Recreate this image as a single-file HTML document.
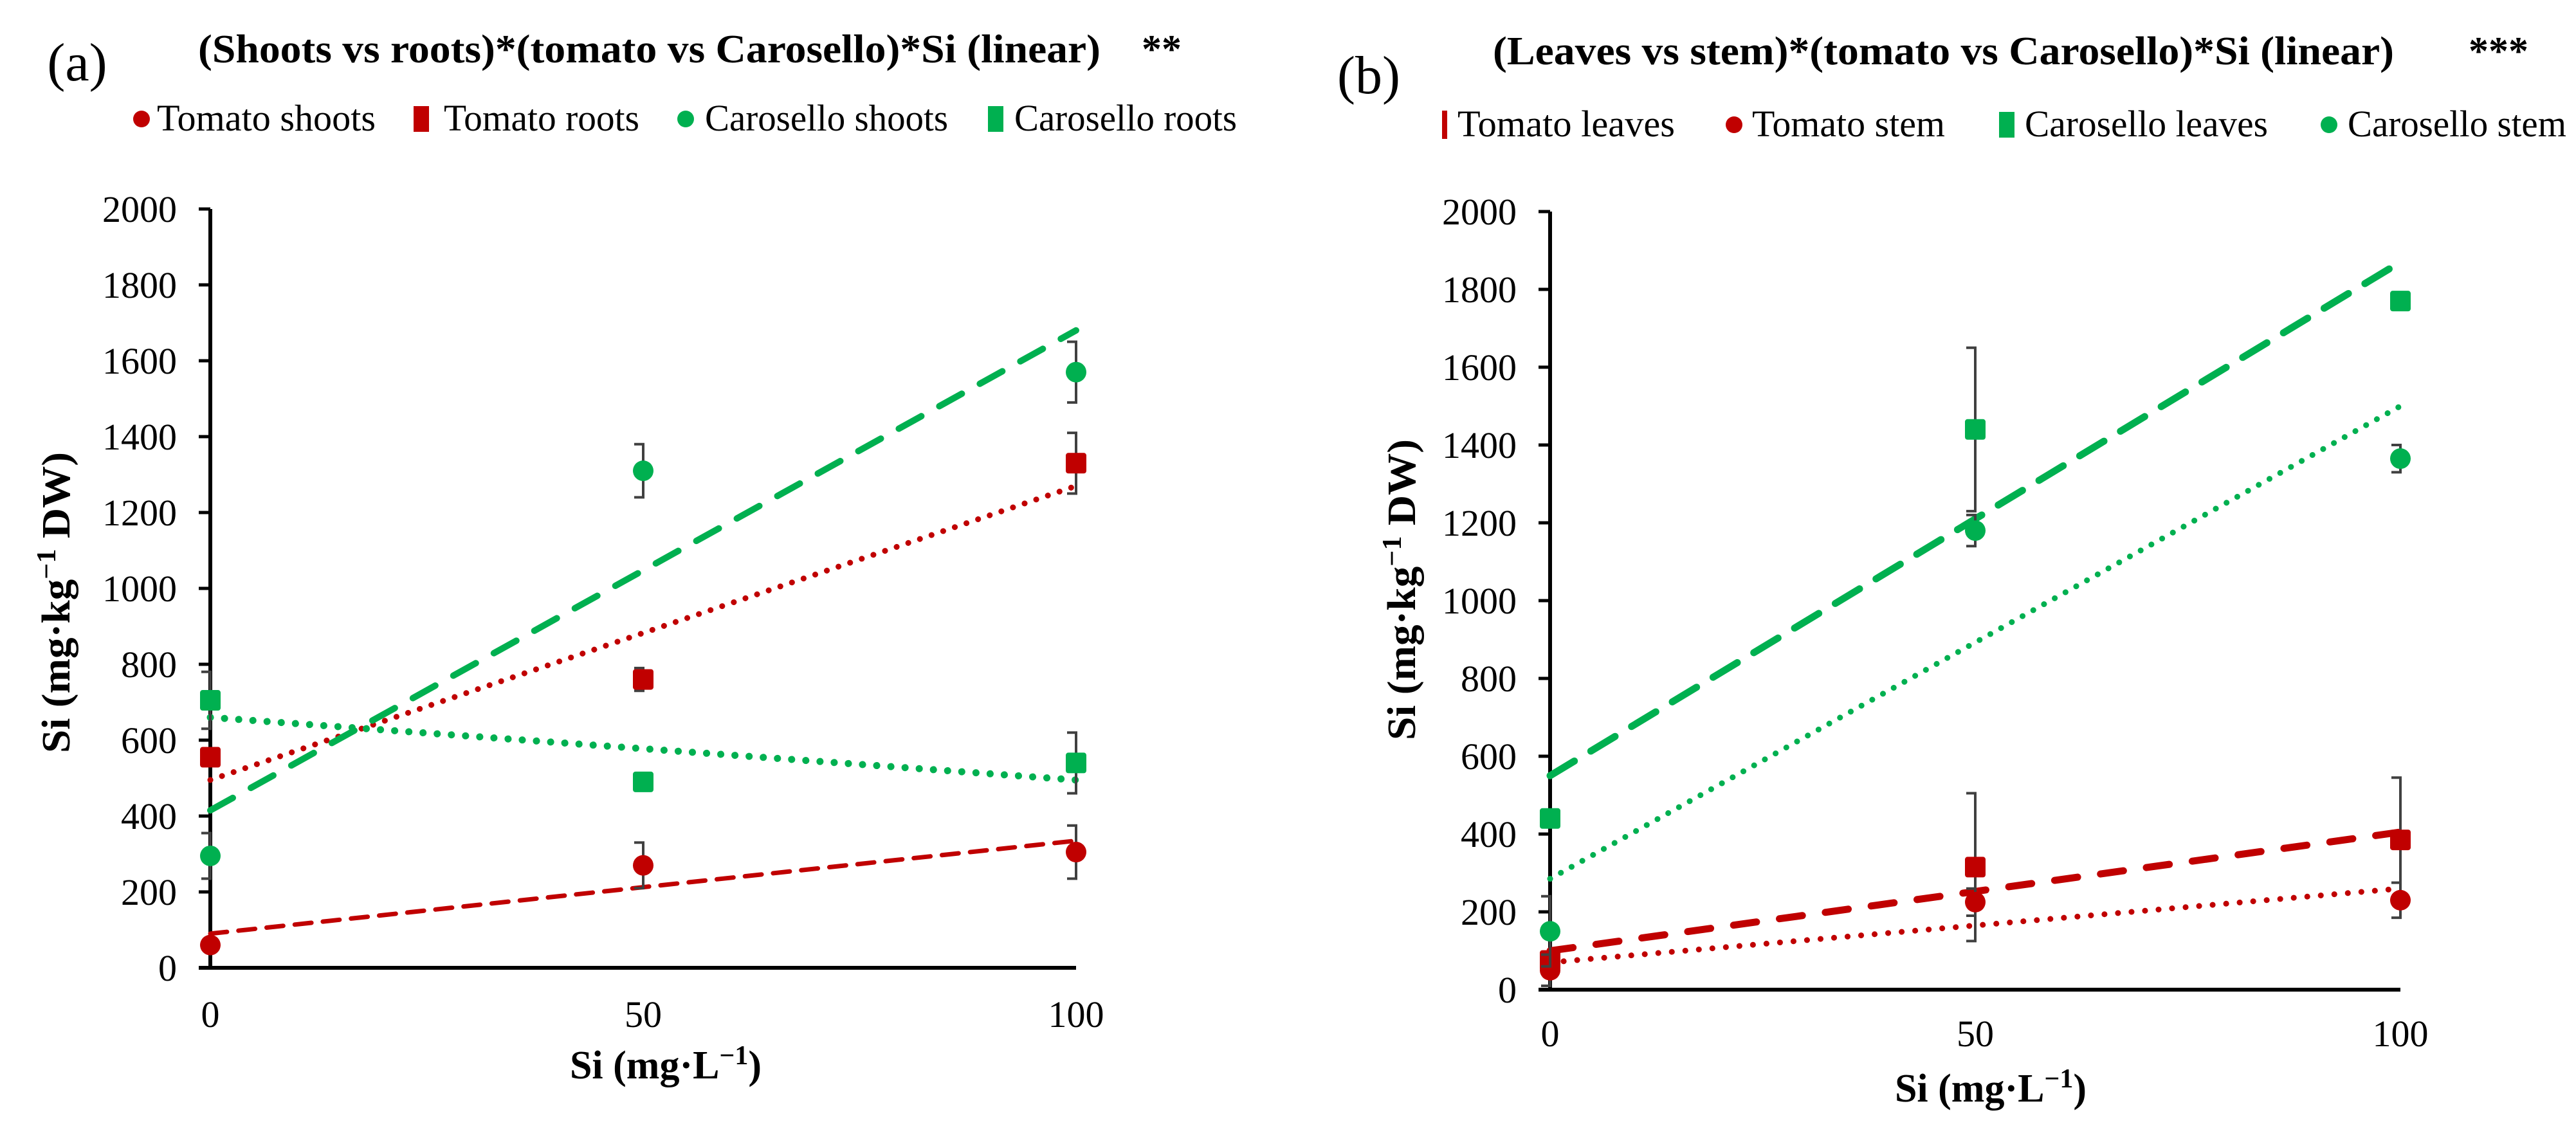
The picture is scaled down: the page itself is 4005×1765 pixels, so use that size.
<!DOCTYPE html>
<html><head><meta charset="utf-8"><style>
html,body{margin:0;padding:0;background:#fff;}
svg{display:block;font-family:"Liberation Serif","Times New Roman",serif;}
svg text{font-family:"Liberation Serif","Times New Roman",serif;}
</style></head>
<body>
<svg id="chart" width="4005" height="1765" viewBox="0 0 4005 1765" xmlns="http://www.w3.org/2000/svg">
<g id="panelA"></g>
<g id="panelB"></g>
</svg>
<script>
// shared
const xCats = [0, 50, 100];
const yTicks = [0, 200, 400, 600, 800, 1000, 1200, 1400, 1600, 1800, 2000];

// Panel A data
const aNames = ["Tomato shoots", "Tomato roots", "Carosello shoots", "Carosello roots"];
const aTomShoots = [60, 270, 305];
const aTomShootsErr = [0, 60, 70];
const aTomRoots = [555, 760, 1330];
const aTomRootsErr = [0, 30, 80];
const aCarShoots = [295, 1310, 1570];
const aCarShootsErr = [60, 70, 80];
const aCarRoots = [705, 490, 540];
const aCarRootsErr = [75, 0, 80];
const aTrendTomShoots = [90, 335];
const aTrendTomRoots = [495, 1270];
const aTrendCarShoots = [415, 1680];
const aTrendCarRoots = [660, 495];

// Panel B data
const bNames = ["Tomato leaves", "Tomato stem", "Carosello leaves", "Carosello stem"];
const bTomLeaves = [75, 315, 385];
const bTomLeavesErr = [0, 190, 160];
const bTomStem = [50, 225, 230];
const bTomStemErr = [40, 35, 45];
const bCarLeaves = [440, 1440, 1770];
const bCarLeavesErr = [0, 210, 0];
const bCarStem = [150, 1180, 1365];
const bCarStemErr = [90, 40, 35];
const bTrendTomLeaves = [100, 405];
const bTrendTomStem = [70, 260];
const bTrendCarLeaves = [550, 1870];
const bTrendCarStem = [285, 1500];

const NS = "http://www.w3.org/2000/svg";
const RED = "#C00000", GREEN = "#00B050";
const FONT = '"Liberation Serif", "Times New Roman", serif';
function mk(parent, tag, attrs, text) {
  const e = document.createElementNS(NS, tag);
  for (const k in attrs) e.setAttribute(k, attrs[k]);
  if (tag === "text") e.setAttribute("font-family", FONT);
  if (text !== undefined) e.textContent = text;
  parent.appendChild(e);
  return e;
}

function drawPanel(g, cfg) {
  const X = v => cfg.x0 + (v / 100) * (cfg.x100 - cfg.x0);
  const Y = v => cfg.y0 - (v / 2000) * (cfg.y0 - cfg.y2000);

  let t = mk(g, "text", {x: cfg.letterX, y: cfg.letterY, "font-size": 84, "text-anchor": "middle"}, cfg.letter);
  
  
  t = mk(g, "text", {x: cfg.titleX, y: cfg.titleY, "font-size": 62, "font-weight": "bold", textLength: cfg.titleW, lengthAdjust: "spacingAndGlyphs"}, cfg.title);
  
  
  t = mk(g, "text", {x: cfg.starX, y: cfg.titleY, "font-size": 62, "font-weight": "bold"}, cfg.stars);
  
  

  cfg.legend.forEach((L, i) => {
    const lg = mk(g, "g", {});
    
    
    const cy = cfg.legY - 18;
    if (L.shape === "circle") mk(lg, "circle", {cx: L.mx, cy: cy, r: 13, fill: L.color});
    else if (L.shape === "square") mk(lg, "rect", {x: L.mx - 12, y: cy - 20, width: 24, height: 40, fill: L.color});
    else mk(lg, "rect", {x: L.mx - 4, y: cy - 22, width: 8, height: 44, fill: L.color});
    mk(lg, "text", {x: L.tx, y: cfg.legY, "font-size": 58, textLength: L.tw, lengthAdjust: "spacingAndGlyphs"}, L.name);
  });

  let a = mk(g, "line", {x1: cfg.x0, y1: cfg.y2000, x2: cfg.x0, y2: cfg.y0 + 3, stroke: "#000", "stroke-width": 6});
  
  
  a = mk(g, "line", {x1: cfg.x0 - 18, y1: cfg.y0, x2: cfg.x100, y2: cfg.y0, stroke: "#000", "stroke-width": 6});
  
  
  yTicks.forEach(v => {
    const tk = mk(g, "line", {x1: cfg.x0 - 18, y1: Y(v), x2: cfg.x0, y2: Y(v), stroke: "#000", "stroke-width": 5});
    
    
    const tl = mk(g, "text", {x: cfg.x0 - 52, y: Y(v) + 20, "font-size": 58, "text-anchor": "end"}, String(v));
    
    
  });
  xCats.forEach(v => {
    const tl = mk(g, "text", {x: X(v), y: cfg.xLabY + 20, "font-size": 58, "text-anchor": "middle"}, String(v));
    
    
  });
  t = mk(g, "text", {x: cfg.xTitleX, y: cfg.xTitleY + 20, "font-size": 62, "font-weight": "bold", "text-anchor": "middle"});
  
  
  t.innerHTML = 'Si (mg·L<tspan dy="-22" font-size="42">−1</tspan><tspan dy="22">)</tspan>';
  t = mk(g, "text", {x: 0, y: 0, "font-size": 62, "font-weight": "bold", "text-anchor": "middle", transform: `translate(${cfg.yTitleX + 20},${cfg.yTitleY}) rotate(-90)`, textLength: 468, lengthAdjust: "spacingAndGlyphs"});
  
  
  t.innerHTML = 'Si (mg·kg<tspan dy="-22" font-size="42">−1</tspan><tspan dy="22"> DW)</tspan>';

  cfg.trends.forEach(T => {
    const l = mk(g, "line", {x1: X(0), y1: Y(T.v[0]), x2: X(100), y2: Y(T.v[1]), stroke: T.color,
      "stroke-width": T.w, "stroke-dasharray": T.dash, "stroke-linecap": "round"});
    
    
  });

  cfg.series.forEach(S => {
    const sg = mk(g, "g", {});
    
    
    S.v.forEach((v, i) => {
      const cx = X(xCats[i]), cy = Y(v), e = S.err[i];
      if (e > 0) {
        const eb = mk(sg, "path", {d: `M${cx - 14},${Y(v + e)} H${cx} V${Y(v - e)} H${cx - 14}`, fill: "none", stroke: "#404040", "stroke-width": 4});
        
        
      }
      let m;
      if (S.shape === "circle") m = mk(sg, "circle", {cx: cx, cy: cy, r: 16, fill: S.color});
      else m = mk(sg, "rect", {x: cx - 16, y: cy - 16, width: 32, height: 32, rx: 4, fill: S.color});
      
      
    });
  });
}

drawPanel(document.getElementById("panelA"), {
  x0: 327, x100: 1673, y0: 1505, y2000: 325,
  letter: "(a)", letterX: 120, letterY: 125,
  title: "(Shoots vs roots)*(tomato vs Carosello)*Si (linear)", titleX: 308, titleY: 97, titleW: 1403, stars: "**", starX: 1775,
  legY: 203,
  legend: [
    {name: aNames[0], shape: "circle", color: RED, mx: 220, tx: 244, tw: 340},
    {name: aNames[1], shape: "square", color: RED, mx: 655, tx: 690, tw: 304},
    {name: aNames[2], shape: "circle", color: GREEN, mx: 1066, tx: 1096, tw: 378},
    {name: aNames[3], shape: "square", color: GREEN, mx: 1548, tx: 1577, tw: 346}
  ],
  xLabY: 1577, xTitleX: 1035, xTitleY: 1657, yTitleX: 88, yTitleY: 937,
  trends: [
    {v: aTrendTomShoots, color: RED, w: 7, dash: "26 18"},
    {v: aTrendTomRoots, color: RED, w: 9, dash: "0.1 19"},
    {v: aTrendCarShoots, color: GREEN, w: 10, dash: "40 32"},
    {v: aTrendCarRoots, color: GREEN, w: 11, dash: "0.1 22"}
  ],
  series: [
    {v: aTomShoots, err: aTomShootsErr, shape: "circle", color: RED},
    {v: aTomRoots, err: aTomRootsErr, shape: "square", color: RED},
    {v: aCarShoots, err: aCarShootsErr, shape: "circle", color: GREEN},
    {v: aCarRoots, err: aCarRootsErr, shape: "square", color: GREEN}
  ]
});

drawPanel(document.getElementById("panelB"), {
  x0: 2410, x100: 3732, y0: 1539, y2000: 329,
  letter: "(b)", letterX: 2128, letterY: 145,
  title: "(Leaves vs stem)*(tomato vs Carosello)*Si (linear)", titleX: 2321, titleY: 100, titleW: 1401, stars: "***", starX: 3838,
  legY: 212,
  legend: [
    {name: bNames[0], shape: "bar", color: RED, mx: 2246, tx: 2266, tw: 338},
    {name: bNames[1], shape: "circle", color: RED, mx: 2696, tx: 2724, tw: 300},
    {name: bNames[2], shape: "square", color: GREEN, mx: 3120, tx: 3148, tw: 378},
    {name: bNames[3], shape: "circle", color: GREEN, mx: 3621, tx: 3650, tw: 340}
  ],
  xLabY: 1607, xTitleX: 3095, xTitleY: 1693, yTitleX: 2180, yTitleY: 917,
  trends: [
    {v: bTrendTomLeaves, color: RED, w: 11, dash: "36 36"},
    {v: bTrendTomStem, color: RED, w: 9, dash: "0.1 21"},
    {v: bTrendCarLeaves, color: GREEN, w: 11, dash: "44 30"},
    {v: bTrendCarStem, color: GREEN, w: 9, dash: "0.1 19"}
  ],
  series: [
    {v: bTomLeaves, err: bTomLeavesErr, shape: "square", color: RED},
    {v: bTomStem, err: bTomStemErr, shape: "circle", color: RED},
    {v: bCarLeaves, err: bCarLeavesErr, shape: "square", color: GREEN},
    {v: bCarStem, err: bCarStemErr, shape: "circle", color: GREEN}
  ]
});
</script>
</body></html>
